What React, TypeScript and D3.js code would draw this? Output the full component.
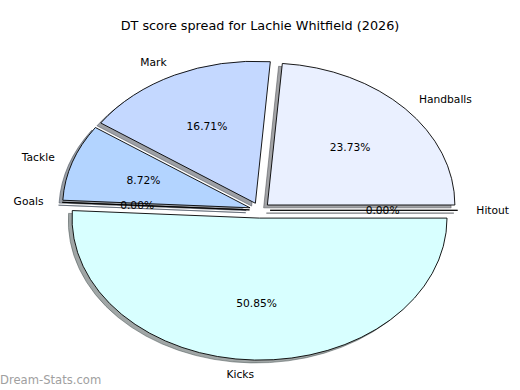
import React from "react";
import * as d3 from "d3";

const title = "DT score spread for Lachie Whitfield (2026)";
const categories = ["Hitout", "Handballs", "Mark", "Tackle", "Goals", "Kicks"];
const values = [0, 98, 69, 36, 0, 210];
const colors = ["#e4ecff", "#eaf0ff", "#c4d8ff", "#b3d4ff", "#a8ccff", "#d8ffff"];
const watermark = "Dream-Stats.com";

const W = 520;
const H = 390;
const cx = 259.8;
const cy = 210.3;
const rx = 187.5;
const ry = 142;
const explode = 0.055;
const shadowDx = -0.02 * rx;
const shadowDy = 0.02 * ry;
const font = "DejaVu Sans, sans-serif";

function shade(c: string) {
  const col = d3.rgb(c);
  return d3.rgb(col.r * 0.3, col.g * 0.3, col.b * 0.3).toString();
}

export default function App() {
  const total = d3.sum(values);
  const pie = d3
    .pie<number>()
    .sort(null)
    .value((d) => d)
    .startAngle(Math.PI / 2)
    .endAngle(Math.PI / 2 - 2 * Math.PI);
  const arcs = pie(values);
  const arcGen = d3.arc<d3.PieArcDatum<number>>().innerRadius(0).outerRadius(rx);
  const sy = ry / rx;

  const items = arcs.map((a, i) => {
    const phi = (a.startAngle + a.endAngle) / 2;
    const ux = Math.sin(phi);
    const uy = -Math.cos(phi);
    const ox = cx + explode * rx * ux;
    const oy = cy + explode * ry * uy;
    return { a, i, ux, uy, ox, oy };
  });

  return (
    <svg width={W} height={H} style={{ position: "absolute", left: 0, top: 0 }}>
      <rect x={0} y={0} width={W} height={H} fill="#ffffff" />
      <text x={260} y={30} textAnchor="middle" fontFamily={font} fontSize={12.8} fill="#000">
        {title}
      </text>
      {items.map(({ a, i, ox, oy }) => (
        <g key={"s" + i} transform={`translate(${ox + shadowDx},${oy + shadowDy}) scale(1,${sy})`}>
          <path
            d={arcGen(a) || ""}
            fill={shade(colors[i])}
            fillOpacity={0.5}
            stroke={shade(colors[i])}
            strokeOpacity={0.5}
            strokeWidth={1}
            vectorEffect="non-scaling-stroke"
          />
        </g>
      ))}
      {items.map(({ a, i, ox, oy }) => (
        <g key={"w" + i} transform={`translate(${ox},${oy}) scale(1,${sy})`}>
          <path
            d={arcGen(a) || ""}
            fill={colors[i]}
            stroke="#000"
            strokeWidth={0.9}
            strokeLinejoin="round"
            vectorEffect="non-scaling-stroke"
          />
        </g>
      ))}
      {items.map(({ i, ux, uy, ox, oy }) => {
        const lx = ox + 1.1 * rx * ux;
        const ly = oy + 1.1 * ry * uy;
        const px = ox + 0.6 * rx * ux;
        const py = oy + 0.6 * ry * uy;
        return (
          <g key={"t" + i} fontFamily={font} fontSize={10.7} fill="#000">
            <text x={lx} y={ly} dy="0.35em" textAnchor={lx > cx ? "start" : "end"}>
              {categories[i]}
            </text>
            <text x={px} y={py} dy="0.35em" textAnchor="middle">
              {((values[i] / total) * 100).toFixed(2) + "%"}
            </text>
          </g>
        );
      })}
      <text x={0} y={384} fontFamily={font} fontSize={11.6} fill="#a0a0a0">
        {watermark}
      </text>
    </svg>
  );
}
